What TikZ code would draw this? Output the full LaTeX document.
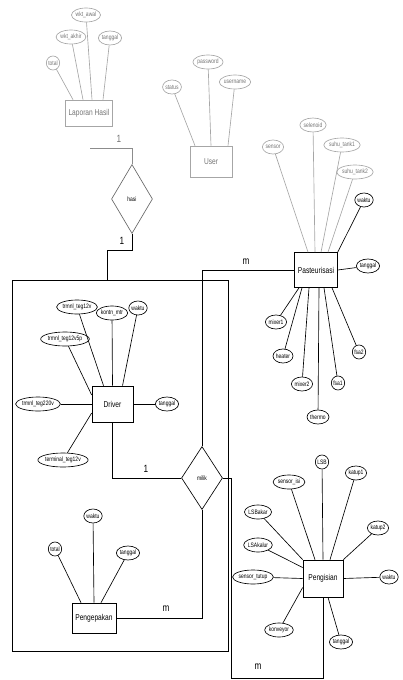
\documentclass[tikz,border=0pt]{standalone}
\usepackage{fontspec}
\setmainfont{Liberation Sans}[FakeStretch=0.78]
\usetikzlibrary{shapes.geometric, positioning, calc}
\newcommand{\attrfnt}{\fontsize{6.4}{7}\selectfont}
\newcommand{\entfnt}{\fontsize{8.5}{9}\selectfont}
\newcommand{\cardfnt}{\fontsize{10.5}{11}\selectfont}

\begin{document}
\begin{tikzpicture}[x=1pt, y=-1pt, line width=0.65pt,
    attr/.style={ellipse, draw, inner xsep=0pt, inner ysep=1pt,
      minimum height=14pt, font=\attrfnt},
    ent/.style={rectangle, draw, minimum width=42pt, minimum height=34pt,
      font=\entfnt},
    rel/.style={diamond, draw, inner sep=0pt, minimum width=41pt,
      minimum height=66pt, font=\attrfnt},
    faint/.style={draw=black!35, text=black!55},
    card/.style={font=\cardfnt},
  ]
    \useasboundingbox (0,0) rectangle (402,680);

    % Laporan Hasil and its attributes
    \node[ent, faint, minimum height=26pt] (lap) at (89,113) {Laporan Hasil};
    \node[attr, faint] (lapTotal) at (53,63)  {total};
    \node[attr, faint] (lapAkhir) at (71,37)  {wkt\_akhir};
    \node[attr, faint] (lapAwal)  at (86,15)  {wkt\_awal};
    \node[attr, faint] (lapTgl)   at (110,38) {tanggal};

    \draw[faint] (lapTotal) -- ([xshift=-16pt]lap.north);
    \draw[faint] (lapAkhir) -- ([xshift=-6pt]lap.north);
    \draw[faint] (lapAwal)  -- ([xshift=3pt]lap.north);
    \draw[faint] (lapTgl)   -- ([xshift=14pt]lap.north);

    % User
    \node[ent, faint, minimum height=31pt] (usr) at (211,161.5) {User};
    \node[attr, faint] (usrStatus) at (172,87) {status};
    \node[attr, faint] (usrPass)   at (208,62) {password};
    \node[attr, faint] (usrName)   at (235,82) {username};

    \draw[faint] (usrStatus) -- ([xshift=-16pt]usr.north);
    \draw[faint] (usrPass)   -- (usr.north);
    \draw[faint] (usrName)   -- ([xshift=17pt]usr.north);

    % relation hasi
    \node[rel, draw=black!60, minimum height=69pt] (hasi) at (132,199) {hasi};
    \coordinate (lapEnd) at (90,148);
    \draw[draw=black!45] (hasi.north) |- (lapEnd);
    \node[card, text=black!55] (cLap) at (119,139) {1};

    % aggregation box
    \node[draw, minimum width=216pt, minimum height=371pt, inner sep=0pt]
      (agg) at (120,465.5) {};
    \draw (hasi.south) -- ++(0,16) -| ([xshift=-13pt]agg.north);
    \node[card] (cHasi) at (122,241) {1};

    % Driver
    \node[ent, minimum width=41pt, minimum height=36pt] (drv) at (112.5,404) {Driver};
    \node[attr] (drvTeg12)  at (77,307)  {trmnl\_teg12v};
    \node[attr] (drvMtr)    at (112,313) {kontn\_mtr};
    \node[attr] (drvWkt)    at (138,308) {waktu};
    \node[attr] (drvTeg12p) at (65,339)  {trmnl\_teg12v5p};
    \node[attr] (drvTeg220) at (38,404)  {trmnl\_teg220v};
    \node[attr] (drvTgl)    at (167,404) {tanggal};
    \node[attr] (drvTerm)   at (63,460)  {terminal\_teg12v};

    \draw (drvTeg12)  -- ([xshift=-9pt]drv.north);
    \draw (drvMtr)    -- (drv.north);
    \draw (drvWkt)    -- ([xshift=10pt]drv.north);
    \draw (drvTeg12p) -- ([yshift=9pt]drv.west);
    \draw (drvTeg220) -- (drv.west);
    \draw (drvTgl)    -- (drv.east);
    \draw (drvTerm)   -- ([yshift=-9pt]drv.west);

    % Pengepakan
    \node[ent, minimum height=30pt] (pgk) at (94,618) {Pengepakan};
    \node[attr] (pgkTotal) at (55,549)  {total};
    \node[attr] (pgkWkt)   at (93,516)  {waktu};
    \node[attr] (pgkTgl)   at (128,553) {tanggal};

    \draw (pgkTotal) -- ([xshift=-13pt]pgk.north);
    \draw (pgkWkt)   -- (pgk.north);
    \draw (pgkTgl)   -- ([xshift=7pt]pgk.north);

    % relation milik
    \node[rel, minimum height=63pt] (milik) at (202,478) {milik};
    \draw (drv.south) |- (milik.west);
    \draw (pgk.east) -| (milik.south);
    \node[card] (cDrv) at (146,469) {1};
    \node[card] (cPgk) at (166,609) {m};

    % Pasteurisasi
    \node[ent, minimum height=35pt] (pst) at (316,270) {Pasteurisasi};
    \node[attr, faint] (pstSns1)  at (273,147) {sensor};
    \node[attr, faint] (pstSns2)  at (313,125) {selenoid};
    \node[attr, faint] (pstSuhu1) at (342,145) {suhu\_tank1};
    \node[attr, faint] (pstSuhu2) at (355,172) {suhu\_tank2};
    \node[attr]        (pstWkt)   at (364,200) {waktu};
    \node[attr]        (pstTgl)   at (368,266) {tanggal};
    \node[attr] (pstMix1)  at (276,322) {mixer1};
    \node[attr] (pstHeat)  at (283,356) {heater};
    \node[attr] (pstMix2)  at (302,384) {mixer2};
    \node[attr] (pstThm)   at (318,417) {thermo};
    \node[attr] (pstFsa1)  at (338,383) {fsa1};
    \node[attr] (pstFsa2)  at (359,352) {fsa2};

    \draw[faint] (pstSns1)  -- ([xshift=-8pt]pst.north);
    \draw[faint] (pstSns2)  -- ([xshift=-1pt]pst.north);
    \draw[faint] (pstSuhu1) -- ([xshift=5pt]pst.north);
    \draw[faint] (pstSuhu2) -- ([xshift=12pt]pst.north);
    \draw (pstWkt)  -- (pst.north east);
    \draw (pstTgl)  -- (pst.east);
    \draw (pstMix1) -- ([xshift=-17pt]pst.south);
    \draw (pstHeat) -- ([xshift=-14pt]pst.south);
    \draw (pstMix2) -- ([xshift=-7pt]pst.south);
    \draw (pstThm)  -- ([xshift=3pt]pst.south);
    \draw (pstFsa1) -- ([xshift=8pt]pst.south);
    \draw (pstFsa2) -- ([xshift=16pt]pst.south);

    \draw (pst.west) -| (milik.north);
    \node[card] (cPst) at (246,262) {m};

    % Pengisian
    \node[ent, minimum width=40pt, minimum height=37pt] (pgs) at (323,578.5) {Pengisian};
    \node[attr] (pgsLsb)   at (322,462) {LSB};
    \node[attr] (pgsIsi)   at (289,482) {sensor\_isi};
    \node[attr] (pgsKtp1)  at (356,473) {katup1};
    \node[attr] (pgsKtp2)  at (378,528) {katup2};
    \node[attr] (pgsLsbk)  at (258,512) {LSBakar};
    \node[attr] (pgsLsak)  at (258,545) {LSAkalur};
    \node[attr] (pgsTutup) at (253,577) {sensor\_tutup};
    \node[attr] (pgsWkt)   at (389,577) {waktu};
    \node[attr] (pgsKonv)  at (279,630) {konveyor};
    \node[attr] (pgsTgl)   at (341,642) {tanggal};

    \draw (pgsLsb)   -- (pgs.north);
    \draw (pgsIsi)   -- ([xshift=-8pt]pgs.north);
    \draw (pgsKtp1)  -- ([xshift=7pt]pgs.north);
    \draw (pgsKtp2)  -- (pgs.north east);
    \draw (pgsLsbk)  -- (pgs.north west);
    \draw (pgsLsak)  -- ([yshift=11pt]pgs.west);
    \draw (pgsTutup) -- (pgs.west);
    \draw (pgsWkt)   -- (pgs.east);
    \draw (pgsKonv)  -- ([yshift=-9pt]pgs.west);
    \draw (pgsTgl)   -- ([xshift=5pt]pgs.south);

    \coordinate (pgsBend) at (231,678);
    \draw (milik.east) -| (pgsBend) -| (pgs.south);
    \node[card] (cPgs) at (258,667) {m};
\end{tikzpicture}
\end{document}
